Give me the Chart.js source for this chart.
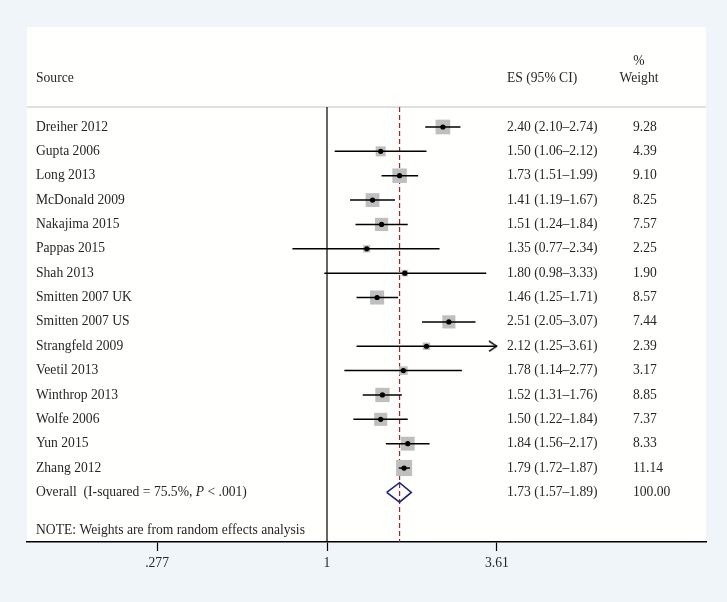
<!DOCTYPE html>
<html lang="en">
<head>
    <meta charset="UTF-8">
    <title>Forest plot</title>
    <script src="https://cdn.jsdelivr.net/npm/chart.js"></script>
    <style>
        body { margin: 0; background: #eff5f8; }
        .wrap { width: 727px; height: 602px; }
    </style>
</head>
<body>
    <div class="wrap"><canvas id="forest"></canvas></div>

    <script>
        const studies = ['Dreiher 2012', 'Gupta 2006', 'Long 2013', 'McDonald 2009', 'Nakajima 2015',
            'Pappas 2015', 'Shah 2013', 'Smitten 2007 UK', 'Smitten 2007 US', 'Strangfeld 2009',
            'Veetil 2013', 'Winthrop 2013', 'Wolfe 2006', 'Yun 2015', 'Zhang 2012'];
        const es = [2.40, 1.50, 1.73, 1.41, 1.51, 1.35, 1.80, 1.46, 2.51, 2.12, 1.78, 1.52, 1.50, 1.84, 1.79];
        const lci = [2.10, 1.06, 1.51, 1.19, 1.24, 0.77, 0.98, 1.25, 2.05, 1.25, 1.14, 1.31, 1.22, 1.56, 1.72];
        const uci = [2.74, 2.12, 1.99, 1.67, 1.84, 2.34, 3.33, 1.71, 3.07, 3.61, 2.77, 1.76, 1.84, 2.17, 1.87];
        const weights = [9.28, 4.39, 9.10, 8.25, 7.57, 2.25, 1.90, 8.57, 7.44, 2.39, 3.17, 8.85, 7.37, 8.33, 11.14];

        const overallEs = 1.73;
        const overallLci = 1.57;
        const overallUci = 1.89;
        const overallWeight = 100.00;
        const iSquared = '75.5%';
        const pText = ' < .001)';
        const note = 'NOTE: Weights are from random effects analysis';

        const xTicks = [0.277, 1, 3.61];
        const xTickLabels = ['.277', '1', '3.61'];

        // row layout (in row units, top to bottom)
        const overallRow = studies.length;
        const noteRow = 16.57;
        const headerRow = -2;
        const pctRow = -2.68;
        const ruleRow = -0.82;
        const yMin = -4.105, yMax = 17.036;
        const xMin = 0.10374, xMax = 17.505;

        const font = '13.6px "Liberation Serif", "DejaVu Serif", serif';
        const italicFont = 'italic 13.6px "Liberation Serif", "DejaVu Serif", serif';
        const textColor = '#262626';

        function fmt(v) { return v.toFixed(2); }

        // small chevron used as the arrow head for CIs running off the axis
        const arrow = document.createElement('canvas');
        arrow.width = 18;
        arrow.height = 12;
        (function () {
            const c = arrow.getContext('2d');
            c.strokeStyle = '#000';
            c.lineWidth = 1.5;
            c.beginPath();
            c.moveTo(1, 0.8);
            c.lineTo(8.6, 6);
            c.lineTo(1, 11.2);
            c.stroke();
        })();

        const datasets = [];

        // diamonds (study point estimates)
        datasets.push({
            data: es.map((v, i) => ({ x: v, y: i })),
            pointStyle: 'circle',
            pointRadius: 2.6,
            backgroundColor: '#000',
            borderColor: '#000',
            borderWidth: 0,
            showLine: false
        });

        // arrow heads where the CI reaches the end of the axis
        datasets.push({
            data: uci.map((v, i) => ({ x: v, y: i })).filter(p => p.x >= xTicks[xTicks.length - 1]),
            pointStyle: arrow,
            pointRadius: 6,
            showLine: false
        });

        // confidence intervals
        studies.forEach((s, i) => {
            datasets.push({
                data: [{ x: lci[i], y: i }, { x: uci[i], y: i }],
                showLine: true,
                borderColor: '#000',
                borderWidth: 1.5,
                pointRadius: 0
            });
        });

        // weight boxes
        datasets.push({
            data: es.map((v, i) => ({ x: v, y: i })),
            pointStyle: 'rect',
            pointRadius: weights.map(w => 3.4 * Math.sqrt(w)),
            backgroundColor: '#bfbfbf',
            borderWidth: 0,
            showLine: false
        });

        // overall diamond
        datasets.push({
            data: [
                { x: overallLci, y: overallRow },
                { x: overallEs, y: overallRow - 0.4 },
                { x: overallUci, y: overallRow },
                { x: overallEs, y: overallRow + 0.4 },
                { x: overallLci, y: overallRow }
            ],
            showLine: true,
            borderColor: '#1d2675',
            borderWidth: 1.6,
            borderJoinStyle: 'miter',
            pointRadius: 0
        });

        // overall effect line
        datasets.push({
            data: [{ x: overallEs, y: ruleRow }, { x: overallEs, y: yMax }],
            showLine: true,
            borderColor: '#a3202c',
            borderWidth: 1.2,
            borderDash: [5, 3],
            pointRadius: 0
        });

        // null line
        datasets.push({
            data: [{ x: 1, y: ruleRow }, { x: 1, y: yMax }],
            showLine: true,
            borderColor: '#000',
            borderWidth: 1.2,
            pointRadius: 0
        });

        const panelPlugin = {
            id: 'panel',
            beforeDraw(chart) {
                const { ctx, chartArea: a, scales: { y } } = chart;
                ctx.save();
                ctx.fillStyle = '#fffffd';
                ctx.fillRect(a.left, a.top, a.right - a.left, a.bottom - a.top);
                const yl = y.getPixelForValue(ruleRow);
                ctx.strokeStyle = '#d6d6d4';
                ctx.lineWidth = 1.5;
                ctx.beginPath();
                ctx.moveTo(a.left, yl);
                ctx.lineTo(a.right, yl);
                ctx.stroke();
                ctx.restore();
            }
        };

        const textPlugin = {
            id: 'columns',
            afterDatasetsDraw(chart) {
                const { ctx, chartArea: a, scales: { y } } = chart;
                const nameX = a.left + 9;
                const esX = a.left + 480;
                const wX = a.left + 606;
                const wHeadX = a.left + 612;

                ctx.save();
                ctx.fillStyle = textColor;
                ctx.font = font;
                ctx.textBaseline = 'middle';

                ctx.textAlign = 'left';
                ctx.fillText('Source', nameX, y.getPixelForValue(headerRow));
                ctx.fillText('ES (95% CI)', esX, y.getPixelForValue(headerRow));
                ctx.textAlign = 'center';
                ctx.fillText('%', wHeadX, y.getPixelForValue(pctRow));
                ctx.fillText('Weight', wHeadX, y.getPixelForValue(headerRow));

                ctx.textAlign = 'left';
                studies.forEach((s, i) => {
                    const py = y.getPixelForValue(i);
                    ctx.fillText(s, nameX, py);
                    ctx.fillText(fmt(es[i]) + ' (' + fmt(lci[i]) + '\u2013' + fmt(uci[i]) + ')', esX, py);
                    ctx.fillText(fmt(weights[i]), wX, py);
                });

                const oy = y.getPixelForValue(overallRow);
                const part1 = 'Overall  (I-squared = ' + iSquared + ', ';
                ctx.fillText(part1, nameX, oy);
                let cx = nameX + ctx.measureText(part1).width;
                ctx.font = italicFont;
                ctx.fillText('P', cx, oy);
                cx += ctx.measureText('P').width;
                ctx.font = font;
                ctx.fillText(pText, cx, oy);
                ctx.fillText(fmt(overallEs) + ' (' + fmt(overallLci) + '\u2013' + fmt(overallUci) + ')', esX, oy);
                ctx.fillText(fmt(overallWeight), wX, oy);

                ctx.fillText(note, nameX, y.getPixelForValue(noteRow));
                ctx.restore();
            }
        };

        new Chart(document.getElementById('forest'), {
            type: 'scatter',
            data: { datasets: datasets },
            plugins: [panelPlugin, textPlugin],
            options: {
                responsive: true,
                maintainAspectRatio: false,
                animation: false,
                events: [],
                layout: { padding: { left: 27, right: 21, top: 27, bottom: 0 } },
                plugins: {
                    legend: { display: false },
                    tooltip: { enabled: false }
                },
                scales: {
                    x: {
                        type: 'logarithmic',
                        position: 'bottom',
                        min: xMin,
                        max: xMax,
                        bounds: 'data',
                        afterBuildTicks: scale => {
                            scale.ticks = xTicks.map(v => ({ value: v }));
                        },
                        afterFit: scale => {
                            scale.height = 60;
                        },
                        ticks: {
                            autoSkip: false,
                            maxRotation: 0,
                            padding: 4,
                            color: textColor,
                            font: { family: '"Liberation Serif", serif', size: 13.6 },
                            callback: v => xTickLabels[xTicks.indexOf(v)]
                        },
                        grid: {
                            drawOnChartArea: false,
                            drawTicks: true,
                            tickLength: 9,
                            color: '#000',
                            tickWidth: 1.2
                        },
                        border: { display: true, color: '#000', width: 1.6 }
                    },
                    y: {
                        type: 'linear',
                        display: false,
                        reverse: true,
                        min: yMin,
                        max: yMax,
                        bounds: 'data'
                    }
                }
            }
        });
    </script>
</body>
</html>
